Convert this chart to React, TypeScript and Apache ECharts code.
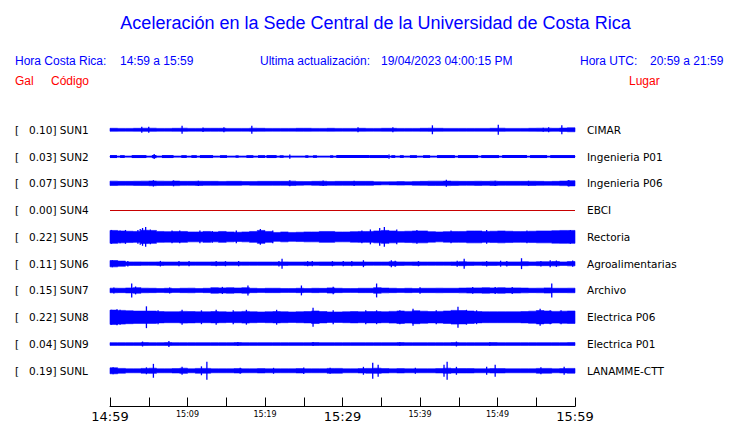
import React, { useEffect, useRef } from "react";
import * as echarts from "echarts";

// ---- Data ----
const CODES = ["SUN1", "SUN2", "SUN3", "SUN4", "SUN5", "SUN6", "SUN7", "SUN8", "SUN9", "SUNL"];
const PEAKS = ["0.10", "0.03", "0.07", "0.00", "0.22", "0.11", "0.15", "0.22", "0.04", "0.19"];
const PLACES = ["CIMAR", "Ingenieria P01", "Ingenieria P06", "EBCI", "Rectoria", "Agroalimentarias", "Archivo", "Electrica P06", "Electrica P01", "LANAMME-CTT"];
const TICK_LABELS = ["14:59", "15:09", "15:19", "15:29", "15:39", "15:49", "15:59"];

// Envelope (half amplitude) per minute, minutes 0..59 after 14:59
const SUN1_ENV = [1.5,1.4,1.4,1.5,1.6,1.6,1.4,1.4,1.5,1.6,1.4,1.4,1.5,1.5,1.5,1.4,1.4,1.4,1.6,1.5,1.4,1.4,1.4,1.4,1.5,1.5,1.4,1.4,1.5,1.4,1.4,1.4,1.5,1.4,1.4,1.5,1.5,1.4,1.4,1.4,1.5,1.6,1.5,1.4,1.4,1.4,1.4,1.4,1.4,1.5,1.6,1.4,1.4,1.4,1.5,1.6,1.6,1.5,1.7,2.0];
const SUN2_ENV = [0.6,0.6,0.6,0.6,0.6,0.6,0.6,0.6,0.6,0.6,0.6,0.6,0.6,0.6,0.6,0.6,0.6,0.6,0.6,0.6,0.6,0.6,0.6,0.6,0.6,0.6,0.6,0.6,0.6,0.6,0.6,0.6,0.6,0.6,0.6,0.6,0.6,0.6,0.6,0.6,0.6,0.6,0.6,0.6,0.6,0.6,0.6,0.6,0.6,0.6,0.6,0.6,0.6,0.6,0.6,0.6,0.6,0.6,0.6,0.6];
const SUN3_ENV = [2.2,2.0,2.0,2.1,2.2,2.4,2.2,2.1,2.3,2.0,2.0,2.1,2.0,2.0,1.9,2.0,2.0,1.8,1.9,2.0,2.0,2.0,2.0,2.2,1.9,1.8,2.0,2.1,1.9,2.0,2.0,2.0,2.0,2.0,1.6,1.5,1.6,1.8,1.6,1.9,2.0,2.2,2.2,2.3,2.1,2.0,2.0,2.1,2.0,2.2,2.0,2.0,2.0,2.0,2.1,2.0,1.9,2.0,2.3,2.6];
const SUN4_ENV = [0,0,0,0,0,0,0,0,0,0,0,0,0,0,0,0,0,0,0,0,0,0,0,0,0,0,0,0,0,0,0,0,0,0,0,0,0,0,0,0,0,0,0,0,0,0,0,0,0,0,0,0,0,0,0,0,0,0,0,0];
const SUN5_ENV = [6.5,6.0,5.7,5.5,6.7,6.5,5.5,5.3,5.5,5.5,5.0,5.0,5.5,5.0,5.5,5.0,4.7,5.0,5.5,6.5,5.5,4.5,5.0,4.5,4.7,5.0,5.0,5.5,5.5,5.0,5.0,5.3,5.5,5.5,6.0,6.5,6.0,5.5,5.7,6.0,6.0,5.3,5.0,5.3,5.5,5.5,6.0,6.0,5.5,5.7,6.0,5.7,5.5,5.5,5.7,6.0,6.0,6.3,6.5,6.5];
const SUN6_ENV = [3.2,2.6,1.8,1.8,1.7,1.7,1.8,1.7,1.7,1.7,1.7,1.7,1.7,1.8,1.8,1.7,1.7,1.7,1.7,1.7,1.7,1.7,1.8,1.7,1.7,1.8,1.7,1.8,1.8,1.7,1.8,1.8,1.8,1.7,1.7,1.7,2.0,1.8,1.7,1.8,1.7,1.7,1.7,1.7,1.8,2.0,1.8,1.7,1.8,1.8,1.7,1.8,1.8,2.0,1.8,2.0,2.0,2.2,1.8,2.2];
const SUN7_ENV = [2.3,2.2,2.5,2.8,2.3,2.2,2.0,2.2,2.0,2.2,2.3,2.0,2.2,2.8,2.6,2.8,2.5,2.8,2.2,2.0,2.2,2.2,2.0,2.0,2.2,2.0,2.2,2.1,2.6,2.2,2.0,2.0,2.2,2.2,2.8,2.4,2.2,2.0,2.2,2.0,2.2,2.2,2.3,2.2,2.2,2.4,2.6,2.6,2.8,2.6,2.8,2.5,2.6,2.4,2.2,2.3,2.6,2.2,2.2,2.3];
const SUN8_ENV = [7.2,6.9,6.5,6.2,6.2,6.2,5.7,5.5,5.5,5.9,5.7,5.5,5.5,5.7,5.5,5.3,5.5,5.9,5.5,5.3,5.5,5.7,5.5,5.3,5.5,5.7,6.3,5.7,5.3,5.3,5.5,5.7,5.5,5.7,5.7,5.5,5.9,6.3,5.9,6.5,6.1,5.7,5.9,6.3,6.9,6.7,6.3,5.7,5.5,5.5,5.5,5.5,5.5,5.7,6.1,6.7,6.3,5.9,6.1,6.3];
const SUN9_ENV = [1.4,1.4,1.4,1.4,1.5,1.4,1.4,1.5,1.4,1.4,1.4,1.4,1.4,1.4,1.4,1.4,1.5,1.4,1.4,1.4,1.4,1.4,1.4,1.4,1.4,1.4,1.5,1.4,1.4,1.4,1.4,1.4,1.4,1.4,1.4,1.4,1.4,1.5,1.4,1.4,1.4,1.4,1.4,1.4,1.5,1.4,1.4,1.4,1.4,1.5,1.4,1.4,1.4,1.4,1.4,1.4,1.4,1.4,1.4,1.5];
const SUNL_ENV = [3.0,2.4,2.0,2.0,2.4,2.6,2.0,2.0,2.2,2.6,2.0,2.4,2.4,2.0,2.0,2.0,2.2,2.0,2.0,2.2,2.0,2.0,2.0,2.0,2.2,2.0,2.0,2.0,2.4,2.4,2.0,2.0,2.2,2.4,2.6,2.2,2.0,2.2,2.0,2.0,2.0,2.0,2.2,2.6,2.2,2.2,2.2,2.0,2.0,2.2,2.2,2.0,2.0,2.0,2.0,2.4,2.4,2.0,2.2,2.4];

// Short bursts: [start minute, end minute, half amplitude]
const SUN2_BURSTS = [[0,0.9,1.5],[1.3,1.9,1.4],[2.8,4.7,1.5],[5.4,6.0,1.6],[6.7,8.2,1.5],[9.2,9.9,1.4],[10.5,11.2,1.4],[11.6,13.3,1.5],[14.2,15.1,1.4],[16.2,16.6,1.2],[17.6,18.5,1.4],[19.1,20,1.4],[20.2,21.5,1.5],[21.9,22.4,1.3],[25.2,25.6,1.3],[26.2,26.7,1.3],[28.4,28.8,1.3],[29.2,33.5,1.5],[33.5,35.9,1.5],[36.3,36.8,1.4],[37.4,37.9,1.4],[38.7,39.6,1.4],[40.4,41.3,1.4],[42.2,44.5,1.5],[44.9,47.5,1.5],[47.9,50.2,1.5],[50.6,53.8,1.5],[54.2,56.4,1.5],[56.8,60,1.5]];

// Isolated spikes: [minute, half amplitude]
const SUN1_SPIKES = [[4.1,3],[5.0,3],[9.3,4],[12.0,2.2],[14.7,2.5],[18.3,4],[32.0,2.5],[36.5,2.5],[41.6,4.5],[50.1,5],[55.9,2],[56.6,2.5],[58.3,4.5]];
const SUN2_SPIKES = [[5.7,2.5],[23.2,2.2],[36.0,2.2]];
const SUN3_SPIKES = [[5.6,3.2],[8.2,3],[11.4,2.6],[23.2,3],[27.5,2.8],[31.5,2.6],[43.4,3.5],[49.7,2.6],[54,2.6],[59.2,3.3]];
const SUN4_SPIKES: number[][] = [];
const SUN5_SPIKES = [[0.2,7],[1.3,6.5],[2,7],[3.6,7],[3.9,8],[4.2,9],[4.6,10],[5.2,7.5],[8,6.5],[9,6.5],[11.6,6.5],[13.2,6],[16.3,6.5],[19.4,8],[21,6.5],[32.5,6.5],[33.6,7.5],[34.8,9],[35.4,10],[37,7.5],[39.6,7],[44,6.5],[48.6,7],[53.8,6.5],[59.4,7]];
const SUN6_SPIKES = [[0.3,3.5],[2.3,2.8],[6.5,2.8],[8.9,2.6],[10.2,2.6],[13.7,2.6],[14.9,2.6],[16.6,2.6],[21.8,2.8],[22.2,5],[25.5,2.6],[26.1,2.6],[28.7,2.6],[30.1,2.6],[31.2,2.6],[32.7,3.5],[36.3,3.5],[36.8,3],[39.8,2.6],[44.8,3],[45.7,5],[48.6,2.8],[50.4,3],[51.2,2.8],[53.1,5.5],[55.6,2.8],[56.8,3.5],[57.6,3.2],[59.7,3.2]];
const SUN7_SPIKES = [[0.5,3],[2.8,7],[3.3,4],[7.7,3],[14.5,3.6],[17.8,5],[24.7,5],[28.8,3.8],[34.4,7],[40,3.2],[46.8,3.4],[49.7,3.6],[51.9,3.5],[57,7]];
const SUN8_SPIKES = [[0.2,7.5],[0.9,8],[1.3,7.5],[4.7,11],[6.2,7],[9.3,7.5],[11.8,7],[13.7,7.5],[15.9,7],[17.6,7.5],[21.5,7.5],[26.2,9.5],[28.8,7],[33,7],[34.4,7],[37.4,7],[39.1,8.5],[42.1,7],[44.9,10.5],[46,7.5],[47.3,7],[55.5,8.5],[56.8,7],[58.2,7]];
const SUN9_SPIKES = [[4.2,2.5],[7.6,3],[16.5,2],[26.2,2],[37.4,1.8],[44.7,2.5],[49,1.8]];
const SUNL_SPIKES = [[0.4,3.5],[4.7,3.5],[5.6,7],[9.3,4],[11.8,4.5],[12.5,9],[16.8,3],[21.1,3],[25,3.2],[28.4,3],[32.7,4],[33.9,8],[34.6,6],[39.4,3],[43.1,6],[43.5,9],[44.7,4],[48.6,4],[49.7,6],[55.6,3.5],[58.6,4]];

const ENVELOPES = [SUN1_ENV, SUN2_ENV, SUN3_ENV, SUN4_ENV, SUN5_ENV, SUN6_ENV, SUN7_ENV, SUN8_ENV, SUN9_ENV, SUNL_ENV];
const BURSTS = [[], SUN2_BURSTS, [], [], [], [], [], [], [], []];
const SPIKES = [SUN1_SPIKES, SUN2_SPIKES, SUN3_SPIKES, SUN4_SPIKES, SUN5_SPIKES, SUN6_SPIKES, SUN7_SPIKES, SUN8_SPIKES, SUN9_SPIKES, SUNL_SPIKES];

const ROW_STEP = 27;
const BLUE = "#0000ff";
const RED = "#ff0000";
const FLAT = "#c80000";

export default function App() {
  const ref = useRef<HTMLDivElement>(null);
  useEffect(() => {
    if (!ref.current) return;
    const chart = echarts.init(ref.current, undefined, { renderer: "svg" });

    const envData = CODES.map((_, i) => [0, i * ROW_STEP, i]);
    const burstData: number[][] = [];
    BURSTS.forEach((list: number[][], i) => list.forEach(([t0, t1, a]) => burstData.push([t0, i * ROW_STEP, t1, a])));
    const spikeData: number[][] = [];
    SPIKES.forEach((list, i) => list.forEach(([t, a]) => spikeData.push([t, i * ROW_STEP, a])));

    const rowLabel = (v: number) => {
      const i = Math.round(v / ROW_STEP);
      if (Math.abs(v - i * ROW_STEP) > 0.01 || i < 0 || i >= CODES.length) return null;
      return i;
    };

    const hdr = (text: string, x: number, y: number, fill: string) => ({
      type: "text",
      x,
      y,
      style: { text, fill, fontSize: 12, fontFamily: "Liberation Sans", verticalAlign: "middle" },
    });

    chart.setOption({
      animation: false,
      backgroundColor: "#ffffff",
      grid: { left: 110, right: 165, top: 103, height: 306 },
      xAxis: {
        type: "value",
        min: 0,
        max: 60,
        interval: 5,
        splitLine: { show: false },
        axisLine: { onZero: false, lineStyle: { color: "#000", width: 1 } },
        axisTick: { inside: true, length: 9, lineStyle: { color: "#000" } },
        axisLabel: {
          margin: 3,
          showMinLabel: true,
          showMaxLabel: true,
          formatter: (v: number) => {
            if (v % 10 !== 0) return "";
            const lab = TICK_LABELS[v / 10];
            return v % 30 === 0 ? `{big|${lab}}` : `{small|${lab}}`;
          },
          rich: {
            big: { fontSize: 13, fontFamily: "DejaVu Sans", color: "#000", lineHeight: 14 },
            small: { fontSize: 8, fontFamily: "DejaVu Sans", color: "#000", lineHeight: 10 },
          },
        },
      },
      yAxis: [
        {
          type: "value",
          inverse: true,
          min: -ROW_STEP,
          max: 279,
          interval: ROW_STEP,
          position: "left",
          splitLine: { show: false },
          axisLine: { show: false },
          axisTick: { show: false },
          axisLabel: {
            margin: 95,
            align: "left",
            formatter: (v: number) => {
              const i = rowLabel(v);
              if (i === null) return "";
              return `{b|[}{v|${PEAKS[i]}] ${CODES[i]}}`;
            },
            rich: {
              b: { width: 14, fontSize: 10.5, fontFamily: "DejaVu Sans", color: "#000" },
              v: { fontSize: 10.5, fontFamily: "DejaVu Sans", color: "#000" },
            },
          },
        },
        {
          type: "value",
          inverse: true,
          min: -ROW_STEP,
          max: 279,
          interval: ROW_STEP,
          position: "right",
          splitLine: { show: false },
          axisLine: { show: false },
          axisTick: { show: false },
          axisLabel: {
            margin: 12,
            align: "left",
            fontSize: 10.5,
            fontFamily: "DejaVu Sans",
            color: "#000",
            formatter: (v: number) => {
              const i = rowLabel(v);
              return i === null ? "" : PLACES[i];
            },
          },
        },
      ],
      graphic: [
        {
          type: "text",
          x: 375.5,
          y: 23,
          style: {
            text: "Aceleración en la Sede Central de la Universidad de Costa Rica",
            fill: BLUE,
            fontSize: 18,
            fontFamily: "Liberation Sans",
            align: "center",
            verticalAlign: "middle",
          },
        },
        hdr("Hora Costa Rica:", 15, 61, BLUE),
        hdr("14:59 a 15:59", 120, 61, BLUE),
        hdr("Ultima actualización:", 260, 61, BLUE),
        hdr("19/04/2023 04:00:15 PM", 381, 61, BLUE),
        hdr("Hora UTC:", 580, 61, BLUE),
        hdr("20:59 a 21:59", 650, 61, BLUE),
        hdr("Gal", 15, 81, RED),
        hdr("Código", 51, 81, RED),
        hdr("Lugar", 629, 81, RED),
      ],
      series: [
        {
          type: "custom",
          xAxisIndex: 0,
          yAxisIndex: 0,
          encode: { x: 0, y: 1 },
          data: envData,
          renderItem: (params: any, api: any) => {
            const c = api.value(1);
            const env = ENVELOPES[api.value(2)];
            const flat = env.every((v) => v === 0);
            if (flat) {
              const p0 = api.coord([0, c]);
              const p1 = api.coord([env.length, c]);
              const y = Math.round(p0[1]) + 0.5;
              return {
                type: "line",
                shape: { x1: p0[0], y1: y, x2: p1[0], y2: y },
                style: { stroke: FLAT, lineWidth: 1 },
              };
            }
            const top: number[][] = [];
            const bot: number[][] = [];
            env.forEach((a, i) => {
              top.push(api.coord([i, c - a]), api.coord([i + 1, c - a]));
              bot.push(api.coord([i, c + a]), api.coord([i + 1, c + a]));
            });
            return {
              type: "polygon",
              shape: { points: top.concat(bot.reverse()) },
              style: { fill: BLUE, stroke: BLUE, lineWidth: 0.6 },
            };
          },
        },
        {
          type: "custom",
          xAxisIndex: 0,
          yAxisIndex: 0,
          encode: { x: 0, y: 1 },
          data: burstData,
          renderItem: (params: any, api: any) => {
            const t0 = api.value(0);
            const c = api.value(1);
            const t1 = api.value(2);
            const a = api.value(3);
            const p0 = api.coord([t0, c - a]);
            const p1 = api.coord([t1, c + a]);
            return {
              type: "rect",
              shape: { x: p0[0], y: Math.min(p0[1], p1[1]), width: p1[0] - p0[0], height: Math.abs(p1[1] - p0[1]) },
              style: { fill: BLUE },
            };
          },
        },
        {
          type: "custom",
          xAxisIndex: 0,
          yAxisIndex: 0,
          encode: { x: 0, y: 1 },
          data: spikeData,
          renderItem: (params: any, api: any) => {
            const t = api.value(0);
            const c = api.value(1);
            const a = api.value(2);
            const p0 = api.coord([t, c - a]);
            const p1 = api.coord([t, c + a]);
            return {
              type: "line",
              shape: { x1: p0[0], y1: p0[1], x2: p1[0], y2: p1[1] },
              style: { stroke: BLUE, lineWidth: 1.3 },
            };
          },
        },
      ],
    });
    return () => chart.dispose();
  }, []);
  return (
    <div
      ref={ref}
      style={{ position: "fixed", left: 0, top: 0, width: 740, height: 423, background: "#fff" }}
    />
  );
}
